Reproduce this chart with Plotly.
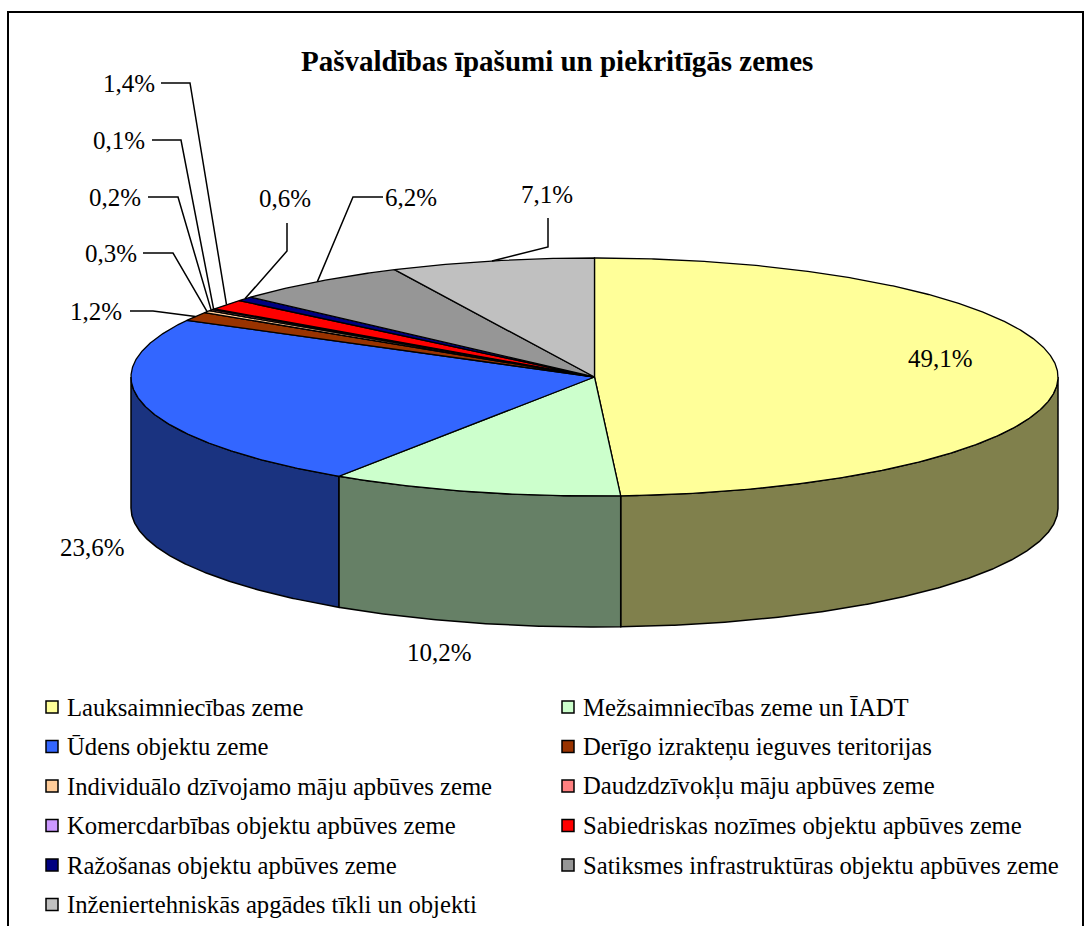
import numpy as np
import plotly.graph_objects as go

# ---------------- data ----------------
categories = [
    "Lauksaimniecības zeme",
    "Mežsaimniecības zeme un ĪADT",
    "Ūdens objektu zeme",
    "Derīgo izrakteņu ieguves teritorijas",
    "Individuālo dzīvojamo māju apbūves zeme",
    "Daudzdzīvokļu māju apbūves zeme",
    "Komercdarbības objektu apbūves zeme",
    "Sabiedriskas nozīmes objektu apbūves zeme",
    "Ražošanas objektu apbūves zeme",
    "Satiksmes infrastruktūras objektu apbūves zeme",
    "Inženiertehniskās apgādes tīkli un objekti",
]
values = [49.1, 10.2, 23.6, 1.2, 0.3, 0.2, 0.1, 1.4, 0.6, 6.2, 7.1]
colors = ["#FFFF99", "#CCFFCC", "#3366FF", "#993300", "#FFCC99", "#FF8080",
          "#CC99FF", "#FF0000", "#000080", "#969696", "#C0C0C0"]
title = "Pašvaldības īpašumi un piekritīgās zemes"

# label placement (layout): (text x, text y, xanchor, leader start, leader elbow)
label_layout = [
    (940, 358, "center", None, None),
    (439, 652, "center", None, None),
    (92, 547, "center", None, None),
    (124, 311, "right", (130, 311), (153, 311)),
    (139, 253, "right", (143, 253), (173, 253)),
    (143, 197, "right", (148, 197), (178, 197)),
    (147, 140, "right", (152, 140), (181, 140)),
    (157, 83, "right", (161, 83), (190, 83)),
    (285, 198, "center", (287, 223), (287, 251)),
    (411, 197, "center", (383, 197), (353, 197)),
    (547, 194, "center", (548, 218), (548, 247)),
]

# ---------------- geometry ----------------
W, H = 1089, 926
CX, CY, RX, RY, DEPTH = 594.5, 377.0, 463.5, 119.0, 131.0
FONT = "Liberation Serif, Times New Roman, serif"


def rim(theta_deg):
    th = np.radians(theta_deg)
    return CX + RX * np.sin(th), CY - RY * np.cos(th)


def darker(hexc, f=0.5):
    hexc = hexc.lstrip("#")
    r, g, b = (int(hexc[i:i + 2], 16) for i in (0, 2, 4))
    return "rgb(%d,%d,%d)" % (round(r * f), round(g * f), round(b * f))


total = sum(values)
cum = np.concatenate([[0], np.cumsum(values)]) / total * 360.0

fig = go.Figure()

# side walls (front half only: 90..270 deg)
for i, v in enumerate(values):
    a, b = cum[i], cum[i + 1]
    lo, hi = max(a, 90.0), min(b, 270.0)
    if hi <= lo:
        continue
    t = np.linspace(lo, hi, max(3, int((hi - lo) * 3)))
    x, y = rim(t)
    xs = np.concatenate([x, x[::-1], [x[0]]])
    ys = np.concatenate([y, (y + DEPTH)[::-1], [y[0]]])
    fig.add_trace(go.Scatter(x=xs, y=ys, mode="lines", fill="toself",
                             fillcolor=darker(colors[i]),
                             line=dict(color="black", width=1.5),
                             hoverinfo="skip", showlegend=False))

# top faces
for i, v in enumerate(values):
    a, b = cum[i], cum[i + 1]
    t = np.linspace(a, b, max(3, int((b - a) * 3)))
    x, y = rim(t)
    xs = np.concatenate([[CX], x, [CX]])
    ys = np.concatenate([[CY], y, [CY]])
    fig.add_trace(go.Scatter(x=xs, y=ys, mode="lines", fill="toself",
                             fillcolor=colors[i],
                             line=dict(color="black", width=1.3),
                             name=categories[i], hoverinfo="skip",
                             showlegend=False))

# data labels and leader lines
annotations = []
for i, v in enumerate(values):
    tx, ty, anc, start, elbow = label_layout[i]
    txt = ("%.1f" % v).replace(".", ",") + "%"
    annotations.append(dict(x=tx, y=ty, xref="x", yref="y", text=txt,
                            showarrow=False, xanchor=anc, yanchor="middle",
                            font=dict(family=FONT, size=25, color="black")))
    if start is not None:
        mid = (cum[i] + cum[i + 1]) / 2
        ex, ey = rim(mid)
        fig.add_trace(go.Scatter(x=[start[0], elbow[0], float(ex)],
                                 y=[start[1], elbow[1], float(ey)],
                                 mode="lines", line=dict(color="black", width=1.5),
                                 hoverinfo="skip", showlegend=False))

# legend (two columns, row-wise)
LEG_X = [52, 568]
LEG_Y0, LEG_DY = 707, 39.5
lx, ly = [], []
for i, name in enumerate(categories):
    col, row = i % 2, i // 2
    x = LEG_X[col]
    y = LEG_Y0 + row * LEG_DY
    lx.append(x)
    ly.append(y)
    annotations.append(dict(x=x + 13, y=y, xref="x", yref="y", text=name,
                            showarrow=False, xanchor="left", yanchor="middle",
                            font=dict(family=FONT, size=24.7, color="black")))
fig.add_trace(go.Scatter(x=lx, y=ly, mode="markers",
                         marker=dict(symbol="square", size=12, color=colors,
                                     line=dict(color="black", width=1.5)),
                         hoverinfo="skip", showlegend=False))

# title
annotations.append(dict(x=557, y=61, xref="x", yref="y", text="<b>%s</b>" % title,
                        showarrow=False, xanchor="center", yanchor="middle",
                        font=dict(family=FONT, size=29, color="black")))

fig.update_layout(
    width=W, height=H,
    margin=dict(l=0, r=0, t=0, b=0),
    paper_bgcolor="white", plot_bgcolor="white",
    xaxis=dict(range=[0, W], visible=False, fixedrange=True),
    yaxis=dict(range=[H, 0], visible=False, fixedrange=True),
    showlegend=False,
    annotations=annotations,
    shapes=[dict(type="rect", xref="x", yref="y", x0=8, y0=12, x1=1083, y1=940,
                 line=dict(color="black", width=2), fillcolor="rgba(0,0,0,0)",
                 layer="below")],
)

fig.write_html("out.html",
               config={"displayModeBar": False},
               post_script="document.body.style.margin='0px';"
                           "document.body.style.overflow='hidden';")
